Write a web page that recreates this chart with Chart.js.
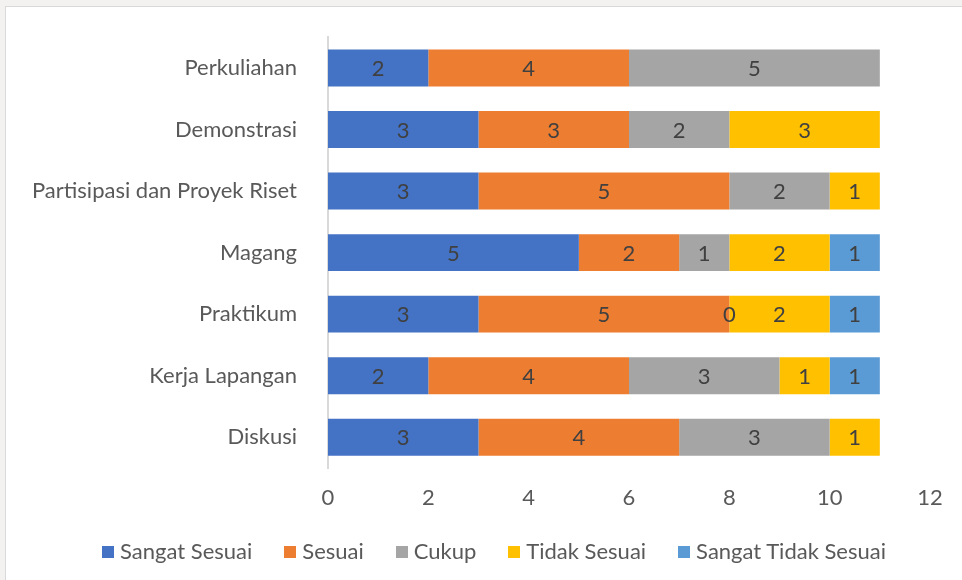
<!DOCTYPE html>
<html>
<head>
<meta charset="utf-8">
<script src="https://cdn.jsdelivr.net/npm/chart.js@4"></script>
<style>
  html, body { margin: 0; padding: 0; }
  body { width: 962px; height: 580px; background: #f4f2f0; overflow: hidden; position: relative; }
  #frame { position: absolute; left: 5px; top: 6px; width: 970px; height: 590px; background: #fff; border: 1px solid #d9d9d9; box-sizing: border-box; }
  #wrap { position: absolute; left: 6px; top: 1px; width: 956px; height: 579px; }
  #legend { position: absolute; left: 0; top: 537px; width: 988px; text-align: center; font: 22px Lato, "Open Sans", sans-serif; color: #595959; white-space: nowrap; }
  #legend span.item { display: inline-block; margin: 0 16px; }
  #legend span.box { display: inline-block; width: 12px; height: 12px; margin-right: 6px; vertical-align: 1px; }
</style>
</head>
<body>
<div id="frame"></div>
<div id="wrap"><canvas id="chart"></canvas></div>
<div id="legend"></div>
<script>
// categories, top to bottom
const categories = ['Perkuliahan', 'Demonstrasi', 'Partisipasi dan Proyek Riset', 'Magang', 'Praktikum', 'Kerja Lapangan', 'Diskusi'];

// series values (null = no segment / no label)
const sangatSesuai      = [2, 3, 3, 5, 3, 2, 3];
const sesuai            = [4, 3, 5, 2, 5, 4, 4];
const cukup             = [5, 2, 2, 1, 0, 3, 3];
const tidakSesuai       = [null, 3, 1, 2, 2, 1, 1];
const sangatTidakSesuai = [null, null, null, 1, 1, 1, null];

const xTicks = [0, 2, 4, 6, 8, 10, 12];

const fontFamily = 'Lato, "Open Sans", sans-serif';
const textColor = '#595959';

// draws the value in the middle of every segment
const barLabels = {
  id: 'barLabels',
  afterDatasetsDraw(chart) {
    const ctx = chart.ctx;
    ctx.save();
    ctx.font = '22px ' + fontFamily;
    ctx.fillStyle = '#404040';
    ctx.textAlign = 'center';
    ctx.textBaseline = 'middle';
    chart.data.datasets.forEach((ds, i) => {
      const meta = chart.getDatasetMeta(i);
      meta.data.forEach((bar, j) => {
        const v = ds.data[j];
        if (v === null || v === undefined) return;
        const cx = (bar.x + bar.base) / 2;
        ctx.fillText(String(v), cx, bar.y + 1);
      });
    });
    ctx.restore();
  }
};

const chart = new Chart(document.getElementById('chart'), {
  type: 'bar',
  data: {
    labels: categories,
    datasets: [
      { label: 'Sangat Sesuai', data: sangatSesuai, backgroundColor: '#4472C4' },
      { label: 'Sesuai', data: sesuai, backgroundColor: '#ED7D31' },
      { label: 'Cukup', data: cukup, backgroundColor: '#A5A5A5' },
      { label: 'Tidak Sesuai', data: tidakSesuai, backgroundColor: '#FFC000' },
      { label: 'Sangat Tidak Sesuai', data: sangatTidakSesuai, backgroundColor: '#5B9BD5' }
    ]
  },
  options: {
    indexAxis: 'y',
    responsive: true,
    maintainAspectRatio: false,
    animation: false,
    categoryPercentage: 0.6,
    barPercentage: 1,
    layout: { padding: { top: 0, right: 32, bottom: 68, left: 0 } },
    scales: {
      x: {
        stacked: true,
        min: 0,
        max: 12,
        afterBuildTicks(scale) { scale.ticks = xTicks.map(v => ({ value: v })); },
        grid: { display: false },
        border: { display: false },
        ticks: { color: textColor, font: { family: fontFamily, size: 22 }, padding: 9 },
        afterFit(scale) { scale.height = 44; }
      },
      y: {
        stacked: true,
        grid: { display: false },
        border: { display: true, color: '#d9d9d9', width: 2 },
        ticks: { color: textColor, font: { family: fontFamily, size: 22 }, padding: 23 },
        afterFit(scale) { scale.width = 322; }
      }
    },
    plugins: {
      legend: { display: false },
      tooltip: { enabled: false }
    }
  },
  plugins: [barLabels]
});

// legend built from the chart's datasets
const legendEl = document.getElementById('legend');
chart.data.datasets.forEach(ds => {
  const item = document.createElement('span');
  item.className = 'item';
  const box = document.createElement('span');
  box.className = 'box';
  box.style.background = ds.backgroundColor;
  item.appendChild(box);
  item.appendChild(document.createTextNode(ds.label));
  legendEl.appendChild(item);
});
</script>
</body>
</html>
